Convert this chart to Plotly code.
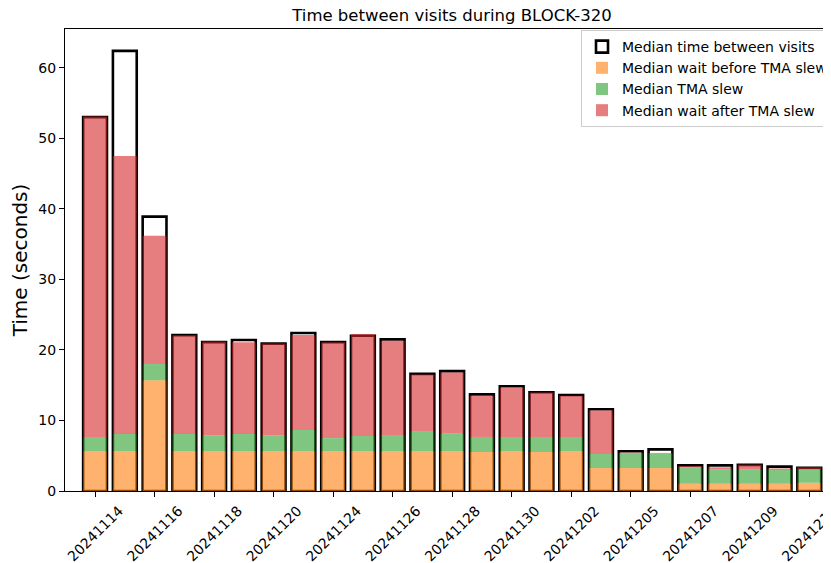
import plotly.graph_objects as go

# nights of BLOCK-320 (one bar per night)
nights = [
    "20241114", "20241115", "20241116", "20241117", "20241118", "20241119",
    "20241120", "20241121", "20241124", "20241125", "20241126", "20241127",
    "20241128", "20241129", "20241130", "20241201", "20241202", "20241203",
    "20241205", "20241206", "20241207", "20241208", "20241209", "20241210",
    "20241211",
]
tick_nights = nights[::2]

# median values in seconds
time_between_visits = [53.0, 62.4, 38.9, 22.1, 21.1, 21.4, 20.9, 22.4, 21.1, 22.0,
                       21.5, 16.6, 17.0, 13.7, 14.85, 14.0, 13.6, 11.6, 5.63, 5.9,
                       3.64, 3.64, 3.7, 3.45, 3.3]
wait_before_slew = [5.67, 5.67, 15.7, 5.67, 5.67, 5.67, 5.67, 5.67, 5.67, 5.67,
                    5.67, 5.67, 5.67, 5.53, 5.67, 5.53, 5.67, 3.26, 3.26, 3.26,
                    1.04, 1.04, 1.04, 1.04, 1.18]
tma_slew = [1.93, 2.42, 2.3, 2.42, 2.23, 2.42, 2.23, 2.98, 1.83, 2.13,
            2.27, 2.83, 2.43, 2.13, 1.99, 2.13, 1.99, 1.99, 2.09, 2.09,
            2.32, 2.04, 2.04, 1.94, 1.8]
wait_after_slew = [45.5, 39.4, 18.2, 14.0, 13.3, 13.0, 13.0, 13.45, 13.6, 14.47,
                   13.36, 8.0, 8.7, 5.84, 7.0, 6.29, 5.84, 6.15, 0.1, 0.05,
                   0.19, 0.28, 0.65, 0.22, 0.38]

base_slew = wait_before_slew
base_after = [a + b for a, b in zip(wait_before_slew, tma_slew)]

fig = go.Figure()

# outline bar first, coloured stack drawn over it
fig.add_trace(go.Bar(
    x=nights, y=time_between_visits, name="Median time between visits",
    width=0.8, marker=dict(color="rgba(255,255,255,0)", line=dict(color="black", width=2.6)),
))
fig.add_trace(go.Bar(
    x=nights, y=wait_before_slew, name="Median wait before TMA slew",
    width=0.8, marker=dict(color="rgba(255,127,14,0.6)", line=dict(width=0)),
))
fig.add_trace(go.Bar(
    x=nights, y=tma_slew, base=base_slew, name="Median TMA slew",
    width=0.8, marker=dict(color="rgba(44,160,44,0.6)", line=dict(width=0)),
))
fig.add_trace(go.Bar(
    x=nights, y=wait_after_slew, base=base_after, name="Median wait after TMA slew",
    width=0.8, marker=dict(color="rgba(214,39,40,0.6)", line=dict(width=0)),
))

# page body adds 8px around the figure; the right side runs past the window on purpose
fig.update_layout(
    width=831, height=555,
    barmode="overlay",
    plot_bgcolor="white", paper_bgcolor="white",
    font=dict(family="DejaVu Sans", size=14, color="black"),
    margin=dict(l=57, r=8, t=21, b=72, autoexpand=False),
    title=dict(text="Time between visits during BLOCK-320", x=(452 - 65) / 766, xref="paper",
               xanchor="center", y=1 - 7 / 555, yanchor="middle", font=dict(size=16.5)),
    legend=dict(x=(581 - 65) / 766, y=1.0 - 1 / 462, xanchor="left", yanchor="top",
                bgcolor="rgba(255,255,255,0.8)", bordercolor="#cccccc", borderwidth=1,
                font=dict(size=14), tracegroupgap=0),
    showlegend=True,
)
fig.update_xaxes(
    type="category", range=[-1.01, 24.73], automargin=False,
    tickmode="array", tickvals=tick_nights, ticktext=tick_nights,
    tickangle=-45, ticklabelshift=24,
    ticks="outside", ticklen=5, tickwidth=1, tickcolor="black",
    showline=True, linecolor="black", linewidth=1.2, mirror=True,
    showgrid=False, zeroline=False,
)
fig.update_yaxes(
    range=[0, 65.5], tickvals=[0, 10, 20, 30, 40, 50, 60], automargin=False,
    ticks="outside", ticklen=5, tickwidth=1, tickcolor="black",
    showline=True, linecolor="black", linewidth=1.2,
    showgrid=False, zeroline=False,
    title=dict(text="Time (seconds)", font=dict(size=20), standoff=10),
)

fig.write_html("out.html")
